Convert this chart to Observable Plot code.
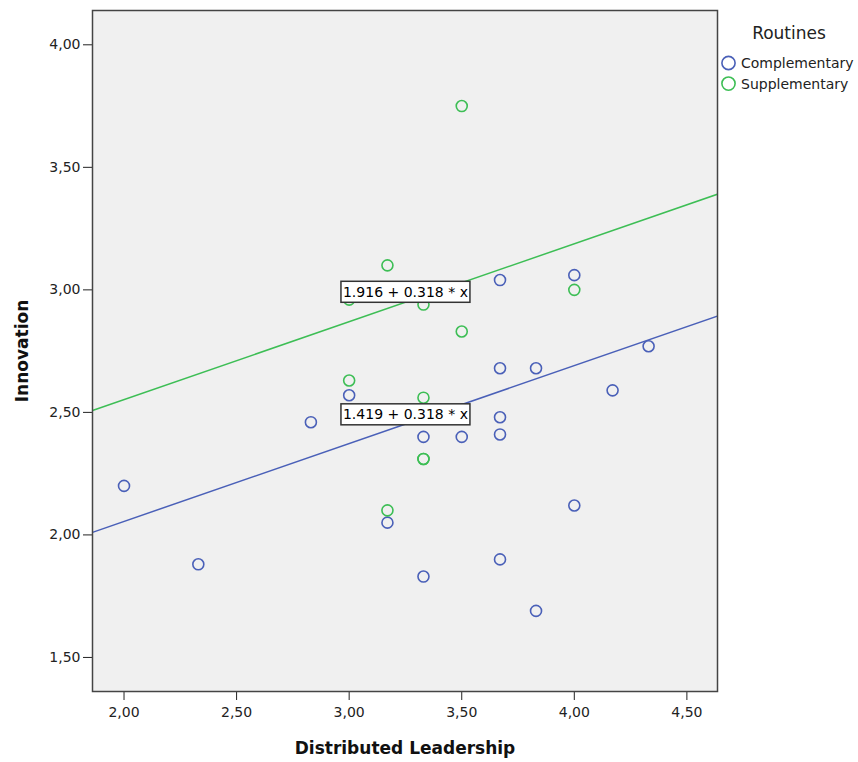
<!DOCTYPE html>
<html><head><meta charset="utf-8">
<script src="https://cdn.jsdelivr.net/npm/d3@7"></script>
<script src="https://cdn.jsdelivr.net/npm/@observablehq/plot@0.6"></script>
<style>
body{margin:0;background:#fff;}
</style></head><body><div id="chart"></div>
<script>
const groups = ["Complementary", "Supplementary"];
const compX = [2.00, 2.33, 2.83, 3.00, 3.17, 3.33, 3.33, 3.50, 3.67, 3.67, 3.67, 3.67, 3.67, 3.83, 3.83, 4.00, 4.00, 4.17, 4.33];
const compY = [2.20, 1.88, 2.46, 2.57, 2.05, 2.40, 1.83, 2.40, 3.04, 2.68, 2.48, 2.41, 1.90, 2.68, 1.69, 3.06, 2.12, 2.59, 2.77];
const suppX = [3.00, 3.00, 3.17, 3.17, 3.33, 3.33, 3.33, 3.33, 3.50, 3.50, 4.00];
const suppY = [2.96, 2.63, 3.10, 2.10, 2.94, 2.56, 2.31, 2.31, 3.75, 2.83, 3.00];
const intercepts = [1.419, 1.916];
const slope = 0.318;
const fitLabels = ["1.419 + 0.318 * x", "1.916 + 0.318 * x"];
const labelX = [3.25, 3.25];
const labelY = [2.49, 2.99];
const xTicks = [2.0, 2.5, 3.0, 3.5, 4.0, 4.5];
const yTicks = [1.5, 2.0, 2.5, 3.0, 3.5, 4.0];
const colors = ["#4A60B8", "#3DBE55"];
const xDomain = [1.86, 4.636];
const yDomain = [1.361, 4.140];

const points = [
  ...compX.map((x, i) => ({g: groups[0], x, y: compY[i]})),
  ...suppX.map((x, i) => ({g: groups[1], x, y: suppY[i]}))
];
const lines = groups.flatMap((g, i) => xDomain.map(x => ({g, x, y: intercepts[i] + slope * x})));
const labels = groups.map((g, i) => ({g, x: labelX[i], y: labelY[i], text: fitLabels[i]}));

const fmt = d => d3.format(".2f")(d).replace(".", ",");

const plot = Plot.plot({
  width: 858, height: 762,
  marginLeft: 92, marginRight: 141, marginTop: 10, marginBottom: 71,
  style: {fontFamily: "DejaVu Sans", background: "#fff", overflow: "visible"},
  x: {domain: xDomain},
  y: {domain: yDomain},
  color: {domain: groups, range: colors},
  marks: [
    Plot.frame({fill: "#f0f0f0"}),
    Plot.axisX({ticks: xTicks, tickFormat: fmt, tickSize: 9, tickPadding: 7, fontSize: 14, color: "#222", label: null}),
    Plot.axisY({ticks: yTicks, tickFormat: fmt, tickSize: 9, tickPadding: 3, fontSize: 14, color: "#222", label: null}),
    Plot.dot(points, {x: "x", y: "y", stroke: "g", r: 5.5, strokeWidth: 1.6, fill: "none"}),
    Plot.line(lines, {x: "x", y: "y", z: "g", stroke: "g", strokeWidth: 1.5, clip: true}),
    Plot.text(labels, {x: "x", y: "y", text: "text", fontSize: 14, fill: "#000", textAnchor: "middle", className: "fitlabel"}),
    Plot.frame({stroke: "#444", strokeWidth: 1.5})
  ]
});
document.getElementById("chart").appendChild(plot);

const svg = d3.select(plot);
// boxes behind fit labels
svg.selectAll(".fitlabel text").each(function() {
  const bb = this.getBBox();
  d3.select(this.parentNode).insert("rect", () => this)
    .attr("transform", this.getAttribute("transform"))
    .attr("x", bb.x - 2).attr("y", bb.y - 2.5)
    .attr("width", bb.width + 4).attr("height", bb.height + 5)
    .attr("fill", "#fff").attr("stroke", "#333").attr("stroke-width", 1.5);
});
// axis titles
svg.append("text").attr("x", 405).attr("y", 754).attr("text-anchor", "middle")
  .attr("font-family", "DejaVu Sans").attr("font-weight", "bold").attr("font-size", 17)
  .attr("fill", "#111").text("Distributed Leadership");
svg.append("text").attr("transform", "translate(28,351) rotate(-90)").attr("text-anchor", "middle")
  .attr("font-family", "DejaVu Sans").attr("font-weight", "bold").attr("font-size", 17)
  .attr("fill", "#111").text("Innovation");
// legend
const lg = svg.append("g").attr("font-family", "DejaVu Sans").attr("text-anchor", "start");
lg.append("text").attr("x", 789).attr("y", 39).attr("text-anchor", "middle")
  .attr("font-size", 17).attr("fill", "#222").text("Routines");
groups.forEach((g, i) => {
  const cy = 63 + i * 20.6;
  lg.append("circle").attr("cx", 728.5).attr("cy", cy).attr("r", 6.6)
    .attr("fill", "none").attr("stroke", colors[i]).attr("stroke-width", 1.6);
  lg.append("text").attr("x", 741).attr("y", cy).attr("dy", "0.36em").attr("text-anchor", "start")
    .attr("font-size", 14).attr("fill", "#222").text(g);
});
</script></body></html>
